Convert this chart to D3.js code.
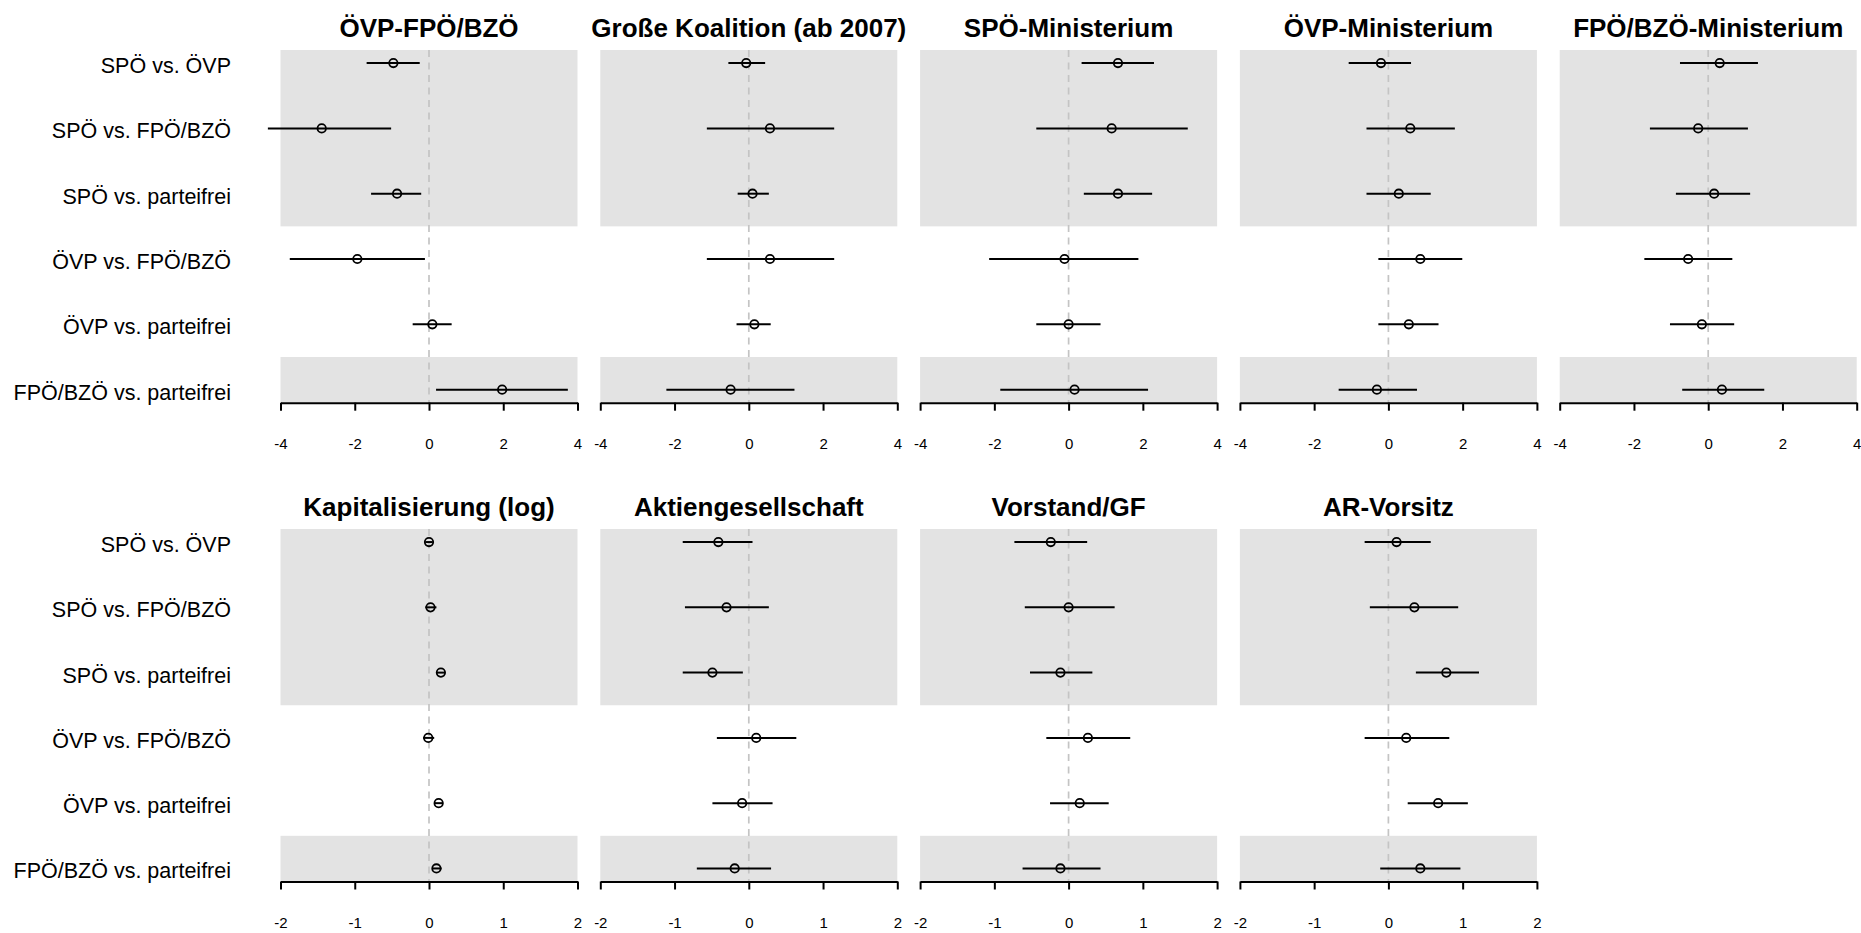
<!DOCTYPE html>
<html>
<head>
<meta charset="utf-8">
<script src="https://cdn.jsdelivr.net/npm/d3@7"></script>
<style>
  body { margin: 0; background: #fff; }
  text { font-family: "Liberation Sans", Arial, Helvetica, sans-serif; }
</style>
</head>
<body>
<svg id="chart" width="1861" height="933"></svg>
<script>
// row labels (same for every panel)
const rowLabels = ["SPÖ vs. ÖVP", "SPÖ vs. FPÖ/BZÖ", "SPÖ vs. parteifrei",
                   "ÖVP vs. FPÖ/BZÖ", "ÖVP vs. parteifrei", "FPÖ/BZÖ vs. parteifrei"];

const titlesTop = ["ÖVP-FPÖ/BZÖ", "Große Koalition (ab 2007)", "SPÖ-Ministerium",
                   "ÖVP-Ministerium", "FPÖ/BZÖ-Ministerium"];
const titlesBottom = ["Kapitalisierung (log)", "Aktiengesellschaft", "Vorstand/GF", "AR-Vorsitz"];

const ticksTop = [-4, -2, 0, 2, 4];
const ticksBottom = [-2, -1, 0, 1, 2];

// estimates, one inner array per panel (rows in order of rowLabels)
const estTop = [
  [-0.96, -2.89, -0.86, -1.93, 0.09, 1.97],
  [-0.07, 0.57, 0.10, 0.57, 0.15, -0.49],
  [1.33, 1.16, 1.33, -0.11, 0.00, 0.16],
  [-0.20, 0.59, 0.28, 0.86, 0.55, -0.31],
  [0.31, -0.27, 0.16, -0.54, -0.17, 0.37]
];
const loTop = [
  [-1.68, -4.34, -1.56, -3.75, -0.44, 0.19],
  [-0.55, -1.13, -0.30, -1.13, -0.33, -2.22],
  [0.35, -0.87, 0.41, -2.14, -0.87, -1.84],
  [-1.07, -0.59, -0.59, -0.27, -0.27, -1.34],
  [-0.76, -1.57, -0.87, -1.72, -1.03, -0.70]
];
const hiTop = [
  [-0.25, -1.02, -0.21, -0.11, 0.61, 3.74],
  [0.44, 2.30, 0.54, 2.30, 0.59, 1.23],
  [2.30, 3.21, 2.25, 1.88, 0.86, 2.14],
  [0.61, 1.79, 1.14, 1.99, 1.35, 0.77],
  [1.34, 1.07, 1.13, 0.65, 0.70, 1.51]
];

const estBottom = [
  [0.00, 0.02, 0.16, -0.01, 0.13, 0.10],
  [-0.41, -0.30, -0.49, 0.10, -0.09, -0.19],
  [-0.24, 0.00, -0.11, 0.26, 0.15, -0.11],
  [0.11, 0.35, 0.78, 0.24, 0.67, 0.43]
];
const loBottom = [
  [-0.05, -0.05, 0.10, -0.08, 0.07, 0.04],
  [-0.89, -0.86, -0.89, -0.43, -0.49, -0.70],
  [-0.73, -0.59, -0.52, -0.30, -0.25, -0.62],
  [-0.32, -0.25, 0.37, -0.32, 0.26, -0.11]
];
const hiBottom = [
  [0.05, 0.10, 0.22, 0.07, 0.19, 0.17],
  [0.05, 0.27, -0.08, 0.64, 0.32, 0.30],
  [0.25, 0.62, 0.32, 0.83, 0.54, 0.43],
  [0.57, 0.94, 1.22, 0.82, 1.07, 0.97]
];

const svg = d3.select("#chart");

const panelLeft = 280.5, panelStep = 319.8, panelWidth = 297;
const labelX = 231;

function drawRow(titles, est, lo, hi, ticks, top, bottom) {
    const y = d3.scaleLinear().domain([-0.2, 5.2]).range([top, bottom]);

    // row labels on the left
    svg.append("g").selectAll("text")
        .data(rowLabels).enter().append("text")
        .attr("x", labelX)
        .attr("y", (d, i) => y(i) + 10)
        .attr("text-anchor", "end")
        .style("font-size", "21.5px")
        .text(d => d);

    titles.forEach(function(title, p) {
        const left = panelLeft + p * panelStep;
        const x = d3.scaleLinear().domain(d3.extent(ticks)).range([left, left + panelWidth]);
        const g = svg.append("g");

        // shaded bands: SPÖ comparisons and FPÖ/BZÖ vs. parteifrei
        [[-0.2, 2.5], [4.5, 5.2]].forEach(function(b) {
            g.append("rect")
                .attr("x", x.range()[0])
                .attr("y", y(b[0]))
                .attr("width", x.range()[1] - x.range()[0])
                .attr("height", y(b[1]) - y(b[0]))
                .attr("fill", "#e3e3e3");
        });

        // zero line
        g.append("line")
            .attr("x1", x(0)).attr("x2", x(0))
            .attr("y1", top).attr("y2", bottom)
            .attr("stroke", "#c4c4c4")
            .attr("stroke-width", 1.7)
            .attr("stroke-dasharray", "7,5.5");

        const rows = d3.range(rowLabels.length);

        g.selectAll("line.ci")
            .data(rows).enter().append("line")
            .attr("class", "ci")
            .attr("x1", i => x(lo[p][i]))
            .attr("x2", i => x(hi[p][i]))
            .attr("y1", i => y(i)).attr("y2", i => y(i))
            .attr("stroke", "#000")
            .attr("stroke-width", 2);

        g.selectAll("circle")
            .data(rows).enter().append("circle")
            .attr("cx", i => x(est[p][i]))
            .attr("cy", i => y(i))
            .attr("r", 4.2)
            .attr("fill", "none")
            .attr("stroke", "#000")
            .attr("stroke-width", 1.8);

        // x axis
        const axis = g.append("g")
            .attr("transform", "translate(0," + bottom + ")")
            .call(d3.axisBottom(x).tickValues(ticks).tickSize(8).tickSizeOuter(0).tickPadding(28)
                  .tickFormat(d3.format("d")));
        axis.select(".domain").attr("stroke-width", 2);
        axis.selectAll(".tick line").attr("stroke-width", 2);
        axis.selectAll(".tick text")
            .style("font-size", "15px")
            .style("font-family", "'Liberation Sans', Arial, sans-serif")
            .text(d => d < 0 ? "-" + Math.abs(d) : d);

        // panel title
        svg.append("text")
            .attr("x", left + panelWidth / 2)
            .attr("y", top - 13)
            .attr("text-anchor", "middle")
            .style("font-size", "26px")
            .style("font-weight", "bold")
            .text(title);
    });
}

drawRow(titlesTop, estTop, loTop, hiTop, ticksTop, 50, 402.7);
drawRow(titlesBottom, estBottom, loBottom, hiBottom, ticksBottom, 529, 881.5);
</script>
</body>
</html>
